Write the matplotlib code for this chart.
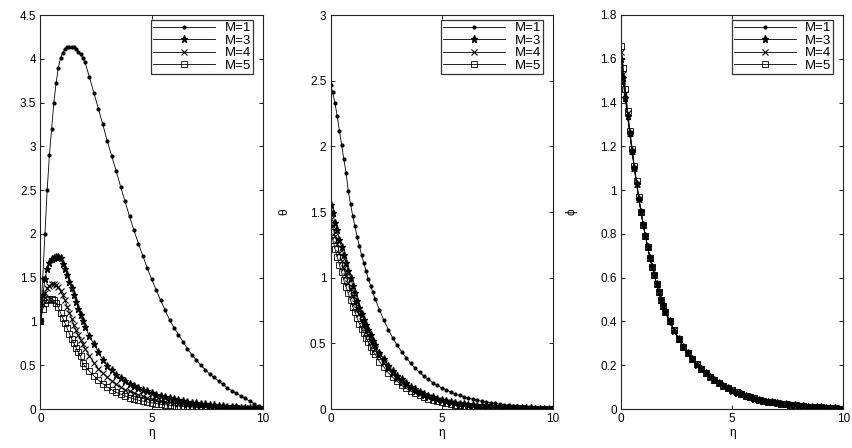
import matplotlib
matplotlib.use("Agg")
import matplotlib.pyplot as plt
import numpy as np

plt.rcParams['font.family'] = ['Liberation Sans', 'DejaVu Sans']

# eta grid (step 0.1 up to 2, step 0.2 afterwards)
eta = [0.0, 0.1, 0.2, 0.3, 0.4, 0.5, 0.6, 0.7, 0.8, 0.9, 1.0, 1.1, 1.2, 1.3, 1.4, 1.5, 1.6, 1.7, 1.8, 1.9, 2.0,
       2.2, 2.4, 2.6, 2.8, 3.0, 3.2, 3.4, 3.6, 3.8, 4.0, 4.2, 4.4, 4.6, 4.8, 5.0, 5.2, 5.4, 5.6, 5.8, 6.0,
       6.2, 6.4, 6.6, 6.8, 7.0, 7.2, 7.4, 7.6, 7.8, 8.0, 8.2, 8.4, 8.6, 8.8, 9.0, 9.2, 9.4, 9.6, 9.8, 10.0]

labels = ["M=1", "M=3", "M=4", "M=5"]

# Panel 1 (velocity-like profile)
p1_M1 = [1.0, 1.5, 2.0, 2.5, 2.9, 3.2, 3.5, 3.72, 3.9, 4.01, 4.07, 4.11, 4.13, 4.14, 4.14, 4.13, 4.11, 4.08, 4.05, 4.01, 3.96,
         3.79, 3.61, 3.43, 3.25, 3.06, 2.89, 2.72, 2.54, 2.37, 2.2, 2.04, 1.89, 1.75, 1.61, 1.48, 1.36, 1.24, 1.13, 1.02, 0.93,
         0.85, 0.77, 0.69, 0.62, 0.56, 0.5, 0.45, 0.4, 0.36, 0.32, 0.28, 0.24, 0.21, 0.18, 0.15, 0.12, 0.09, 0.06, 0.03, 0.0]
p1_M3 = [1.0, 1.3, 1.48, 1.6, 1.67, 1.71, 1.73, 1.74, 1.74, 1.72, 1.66, 1.6, 1.53, 1.45, 1.38, 1.3, 1.22, 1.14, 1.07, 1.0, 0.94,
         0.83, 0.74, 0.65, 0.56, 0.49, 0.44, 0.39, 0.35, 0.32, 0.29, 0.26, 0.24, 0.22, 0.2, 0.18, 0.165, 0.15, 0.135, 0.12, 0.11,
         0.1, 0.09, 0.08, 0.072, 0.065, 0.058, 0.052, 0.046, 0.041, 0.036, 0.032, 0.028, 0.024, 0.02, 0.017, 0.014, 0.01, 0.007, 0.004, 0.0]
p1_M4 = [1.0, 1.2, 1.32, 1.38, 1.41, 1.43, 1.43, 1.42, 1.39, 1.35, 1.3, 1.24, 1.17, 1.1, 1.03, 0.96, 0.9, 0.84, 0.79, 0.74, 0.69,
         0.61, 0.53, 0.46, 0.41, 0.36, 0.32, 0.28, 0.25, 0.22, 0.2, 0.18, 0.16, 0.145, 0.13, 0.115, 0.105, 0.095, 0.085, 0.076, 0.068,
         0.061, 0.055, 0.049, 0.044, 0.039, 0.035, 0.031, 0.028, 0.025, 0.022, 0.019, 0.016, 0.014, 0.012, 0.01, 0.008, 0.006, 0.004, 0.002, 0.0]
p1_M5 = [1.0, 1.14, 1.21, 1.25, 1.26, 1.26, 1.24, 1.21, 1.16, 1.1, 1.04, 0.98, 0.92, 0.86, 0.8, 0.75, 0.7, 0.65, 0.6, 0.52, 0.49,
         0.43, 0.38, 0.33, 0.29, 0.25, 0.22, 0.19, 0.17, 0.15, 0.13, 0.115, 0.1, 0.09, 0.08, 0.07, 0.062, 0.055, 0.049, 0.043, 0.038,
         0.034, 0.03, 0.026, 0.023, 0.02, 0.018, 0.016, 0.014, 0.012, 0.01, 0.009, 0.008, 0.007, 0.006, 0.005, 0.004, 0.003, 0.002, 0.001, 0.0]

# Panel 2 (theta)
p2_M1 = [2.47, 2.41, 2.33, 2.23, 2.12, 2.01, 1.9, 1.8, 1.66, 1.56, 1.47, 1.39, 1.31, 1.24, 1.17, 1.11, 1.05, 0.99, 0.94, 0.89, 0.84,
         0.755, 0.675, 0.605, 0.54, 0.485, 0.435, 0.39, 0.35, 0.31, 0.28, 0.25, 0.225, 0.2, 0.18, 0.16, 0.145, 0.13, 0.115, 0.103, 0.092,
         0.083, 0.074, 0.066, 0.059, 0.053, 0.047, 0.042, 0.037, 0.033, 0.029, 0.026, 0.022, 0.019, 0.016, 0.013, 0.01, 0.008, 0.005, 0.003, 0.0]
p2_M3 = [1.55, 1.49, 1.42, 1.36, 1.29, 1.23, 1.17, 1.11, 1.05, 1.0, 0.94, 0.88, 0.82, 0.77, 0.72, 0.68, 0.64, 0.6, 0.56, 0.52, 0.49,
         0.43, 0.38, 0.33, 0.29, 0.255, 0.225, 0.195, 0.17, 0.15, 0.13, 0.115, 0.1, 0.088, 0.077, 0.067, 0.059, 0.052, 0.045, 0.04, 0.035,
         0.03, 0.027, 0.023, 0.02, 0.018, 0.016, 0.014, 0.012, 0.01, 0.009, 0.008, 0.007, 0.006, 0.005, 0.004, 0.003, 0.002, 0.002, 0.001, 0.0]
p2_M4 = [1.45, 1.39, 1.32, 1.26, 1.19, 1.13, 1.07, 1.01, 0.96, 0.91, 0.86, 0.81, 0.76, 0.72, 0.67, 0.63, 0.59, 0.56, 0.52, 0.49, 0.46,
         0.4, 0.35, 0.305, 0.265, 0.23, 0.2, 0.175, 0.153, 0.133, 0.116, 0.101, 0.088, 0.077, 0.067, 0.058, 0.051, 0.044, 0.039, 0.034, 0.029,
         0.026, 0.022, 0.019, 0.017, 0.015, 0.013, 0.011, 0.01, 0.008, 0.007, 0.006, 0.005, 0.004, 0.004, 0.003, 0.002, 0.002, 0.001, 0.001, 0.0]
p2_M5 = [1.35, 1.29, 1.22, 1.16, 1.1, 1.04, 0.98, 0.93, 0.88, 0.83, 0.78, 0.74, 0.69, 0.65, 0.61, 0.58, 0.54, 0.51, 0.47, 0.44, 0.42,
         0.36, 0.32, 0.275, 0.24, 0.21, 0.18, 0.157, 0.137, 0.119, 0.103, 0.09, 0.078, 0.068, 0.059, 0.051, 0.045, 0.039, 0.034, 0.029, 0.025,
         0.022, 0.019, 0.017, 0.015, 0.013, 0.011, 0.01, 0.008, 0.007, 0.006, 0.005, 0.005, 0.004, 0.003, 0.003, 0.002, 0.002, 0.001, 0.001, 0.0]

# Panel 3 (phi)
p3_M1 = [1.57, 1.49, 1.41, 1.33, 1.25, 1.17, 1.1, 1.03, 0.96, 0.9, 0.84, 0.79, 0.74, 0.69, 0.65, 0.61, 0.57, 0.535, 0.5, 0.47, 0.44,
         0.395, 0.355, 0.315, 0.28, 0.25, 0.225, 0.2, 0.18, 0.16, 0.145, 0.13, 0.116, 0.104, 0.093, 0.083, 0.074, 0.066, 0.059, 0.052, 0.046,
         0.041, 0.037, 0.033, 0.029, 0.026, 0.023, 0.02, 0.018, 0.016, 0.014, 0.012, 0.011, 0.009, 0.008, 0.007, 0.005, 0.004, 0.003, 0.002, 0.0]
p3_M3 = [1.6, 1.51, 1.42, 1.34, 1.26, 1.18, 1.1, 1.03, 0.96, 0.9, 0.84, 0.79, 0.74, 0.69, 0.65, 0.61, 0.57, 0.535, 0.5, 0.47, 0.445,
         0.4, 0.355, 0.32, 0.285, 0.255, 0.228, 0.203, 0.183, 0.163, 0.147, 0.132, 0.118, 0.105, 0.094, 0.084, 0.075, 0.067, 0.06, 0.053, 0.047,
         0.042, 0.038, 0.033, 0.03, 0.026, 0.023, 0.021, 0.018, 0.016, 0.014, 0.012, 0.011, 0.009, 0.008, 0.007, 0.005, 0.004, 0.003, 0.002, 0.0]
p3_M4 = [1.63, 1.53, 1.44, 1.35, 1.26, 1.18, 1.1, 1.03, 0.96, 0.9, 0.84, 0.79, 0.74, 0.69, 0.65, 0.61, 0.57, 0.535, 0.5, 0.47, 0.445,
         0.4, 0.36, 0.32, 0.285, 0.255, 0.23, 0.205, 0.184, 0.164, 0.148, 0.133, 0.119, 0.106, 0.095, 0.085, 0.076, 0.068, 0.061, 0.054, 0.048,
         0.043, 0.038, 0.034, 0.03, 0.027, 0.024, 0.021, 0.019, 0.017, 0.015, 0.013, 0.011, 0.01, 0.008, 0.007, 0.006, 0.004, 0.003, 0.002, 0.0]
p3_M5 = [1.66, 1.56, 1.46, 1.36, 1.27, 1.19, 1.11, 1.04, 0.97, 0.9, 0.84, 0.79, 0.74, 0.69, 0.65, 0.61, 0.57, 0.535, 0.5, 0.47, 0.445,
         0.4, 0.36, 0.32, 0.285, 0.255, 0.23, 0.205, 0.185, 0.165, 0.148, 0.133, 0.119, 0.106, 0.095, 0.085, 0.076, 0.068, 0.061, 0.054, 0.048,
         0.043, 0.038, 0.034, 0.03, 0.027, 0.024, 0.021, 0.019, 0.017, 0.015, 0.013, 0.011, 0.01, 0.008, 0.007, 0.006, 0.004, 0.003, 0.002, 0.0]

panels = [
    dict(series=[p1_M1, p1_M3, p1_M4, p1_M5], ylim=(0, 4.5), yticks=[0, 0.5, 1, 1.5, 2, 2.5, 3, 3.5, 4, 4.5], ylabel=None),
    dict(series=[p2_M1, p2_M3, p2_M4, p2_M5], ylim=(0, 3), yticks=[0, 0.5, 1, 1.5, 2, 2.5, 3], ylabel="θ"),
    dict(series=[p3_M1, p3_M3, p3_M4, p3_M5], ylim=(0, 1.8), yticks=[0, 0.2, 0.4, 0.6, 0.8, 1, 1.2, 1.4, 1.6, 1.8], ylabel="ϕ"),
]

styles = [
    dict(marker='.', markersize=4),
    dict(marker='*', markersize=5.2),
    dict(marker='x', markersize=4.2, markeredgewidth=0.8),
    dict(marker='s', markersize=4.5, markerfacecolor='none', markeredgewidth=0.6),
]

W, H = 853, 448
fig = plt.figure(figsize=(W / 100, H / 100), dpi=100)
lefts = [40.5, 330.5, 621]
width = 222.5
bottom, top = 409, 15
ylabel_x = [None, -0.18, -0.195]

for i, (p, lx) in enumerate(zip(panels, lefts)):
    ax = fig.add_axes([lx / W, 1 - bottom / H, width / W, (bottom - top) / H])
    for ser, st, lab in zip(p["series"], styles, labels):
        ax.plot(eta, ser, color='black', linewidth=0.6, label=lab, **st)
    ax.set_xlim(0, 10)
    ax.set_ylim(*p["ylim"])
    ax.set_xticks([0, 5, 10])
    ax.set_yticks(p["yticks"])
    ax.set_yticklabels([f"{v:g}" for v in p["yticks"]])
    ax.tick_params(direction='in', top=True, right=True, length=3, width=0.6, labelsize=8.5, pad=3)
    for s in ax.spines.values():
        s.set_linewidth(0.8)
        s.set_color('#222222')
    ax.set_xlabel("η", fontsize=8.5, labelpad=1)
    if p["ylabel"]:
        ax.set_ylabel(p["ylabel"], fontsize=8.5)
        ax.yaxis.set_label_coords(ylabel_x[i], 0.5)
    leg = ax.legend(loc='upper right', bbox_to_anchor=(0.955, 0.987), fontsize=9.5, handlelength=4.7,
                    frameon=True, fancybox=False, borderpad=0.15, labelspacing=0.02, handletextpad=0.7,
                    borderaxespad=0.0)
    leg.get_frame().set_edgecolor('black')
    leg.get_frame().set_linewidth(0.9)

fig.savefig("out.png", dpi=100)
